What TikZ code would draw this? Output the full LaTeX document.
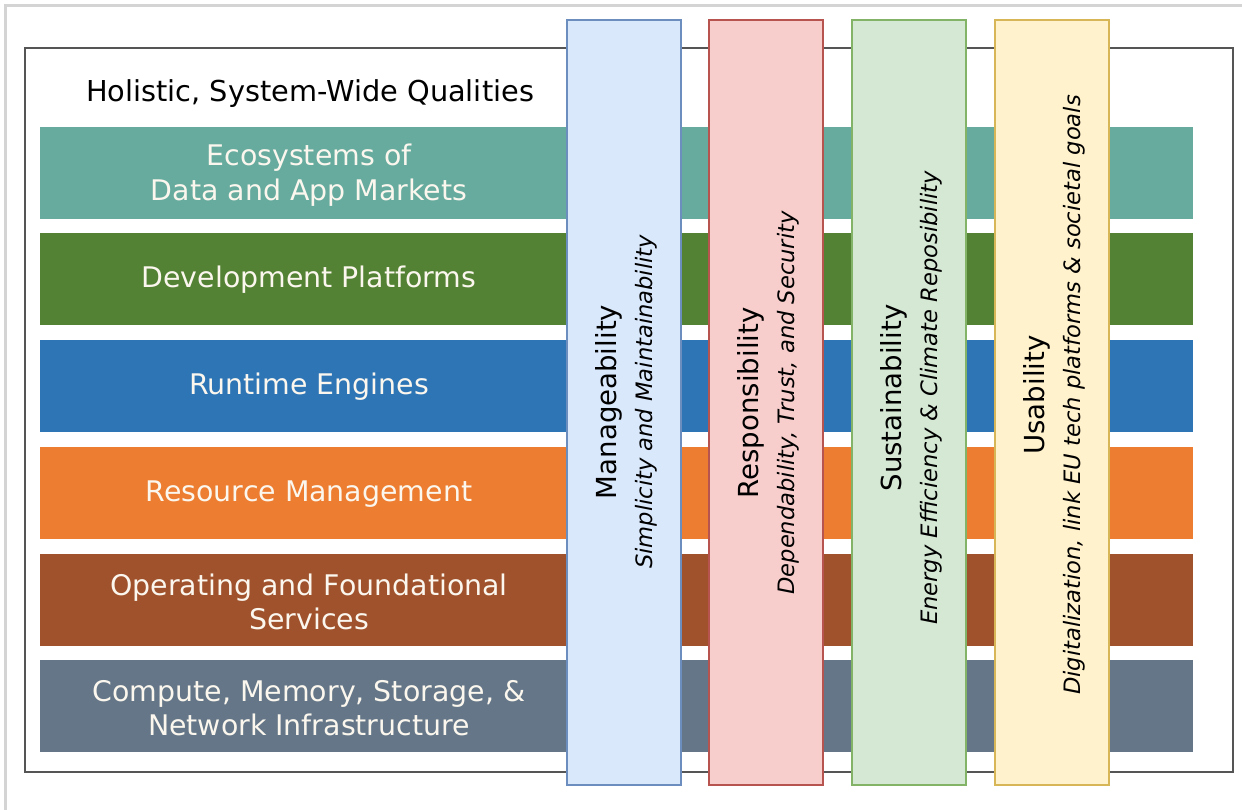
\documentclass[tikz,border=0pt]{standalone}
\usepackage{fontspec}
\setmainfont{DejaVu Sans}
\definecolor{tealband}{HTML}{67AB9F}
\definecolor{greenband}{HTML}{548235}
\definecolor{blueband}{HTML}{2E75B6}
\definecolor{orangeband}{HTML}{ED7D31}
\definecolor{brownband}{HTML}{A0522D}
\definecolor{slateband}{HTML}{647687}
\definecolor{bandtxt}{HTML}{FBF7EE}
\definecolor{colAfill}{HTML}{DAE8FC}\definecolor{colAdraw}{HTML}{6C8EBF}
\definecolor{colBfill}{HTML}{F8CECC}\definecolor{colBdraw}{HTML}{B85450}
\definecolor{colCfill}{HTML}{D5E8D4}\definecolor{colCdraw}{HTML}{82B366}
\definecolor{colDfill}{HTML}{FFF2CC}\definecolor{colDdraw}{HTML}{D6B656}
\definecolor{framegray}{HTML}{555555}
\definecolor{shadowgray}{HTML}{D4D4D4}
\begin{document}
\begin{tikzpicture}[x=1pt,y=-1pt,
  band/.style={rectangle,draw=none,minimum width=1153pt,minimum height=92pt,inner sep=0pt},
  bandtext/.style={text=bandtxt,align=center,font=\fontsize{28.4}{34.5}\selectfont,inner sep=0pt},
  column/.style={rectangle,line width=1.2pt,minimum width=114pt,minimum height=765pt,inner sep=0pt},
  coltext/.style={rotate=90,align=center,text=black,font=\fontsize{22.6}{36}\selectfont,inner sep=0pt},
  coltitle/.style={font=\fontsize{27.6}{36}\selectfont},
  frameline/.style={draw=framegray,line width=1.5pt}]
\useasboundingbox (0,0) rectangle (1242,810);
\fill[white] (0,0) rectangle (1242,810);
% page shadow
\coordinate (shA) at (5,810);
\coordinate (shB) at (5,6);
\coordinate (shC) at (1242,6);
\draw[shadowgray,line width=3pt] (shA) -- (shB) -- (shC);
% frame
\node[frameline,rectangle,minimum width=1208pt,minimum height=724pt,inner sep=0pt] (frame) at (629,410) {};
% title
\node[anchor=base,font=\fontsize{28.8}{34}\selectfont,inner sep=0pt] (title) at (310,102) {Holistic, System-Wide Qualities};
% bands
\node[band,fill=tealband] (b1) at (616.5,173) {};
\node[band,fill=greenband] (b2) at (616.5,279) {};
\node[band,fill=blueband] (b3) at (616.5,386) {};
\node[band,fill=orangeband] (b4) at (616.5,493) {};
\node[band,fill=brownband] (b5) at (616.5,600) {};
\node[band,fill=slateband] (b6) at (616.5,706) {};
\node[bandtext] (t1) at (309,175) {Ecosystems of\\Data and App Markets};
\node[bandtext] (t2) at (309,280) {Development Platforms};
\node[bandtext] (t3) at (309,387) {Runtime Engines};
\node[bandtext] (t4) at (309,494) {Resource Management};
\node[bandtext] (t5) at (309,602) {Operating and Foundational\\Services};
\node[bandtext] (t6) at (309,708) {Compute, Memory, Storage, \&\\Network Infrastructure};
% columns
\node[column,fill=colAfill,draw=colAdraw] (c1) at (624,402.5) {};
\node[column,fill=colBfill,draw=colBdraw] (c2) at (766,402.5) {};
\node[column,fill=colCfill,draw=colCdraw] (c3) at (909,402.5) {};
\node[column,fill=colDfill,draw=colDdraw] (c4) at (1052,402.5) {};
\node[coltext] (ct1) at (626,402) {{\fontsize{27.6}{36}\selectfont Manageability}\\\itshape Simplicity and Maintainability};
\node[coltext] (ct2) at (768,403) {{\fontsize{27.6}{36}\selectfont Responsibility}\\\itshape Dependability, Trust, and Security};
\node[coltext] (ct3) at (911,398) {{\fontsize{27.6}{36}\selectfont Sustainability}\\\itshape Energy Efficiency \& Climate Reposibility};
\node[coltext] (ct4) at (1054,395) {{\fontsize{27.6}{36}\selectfont Usability}\\\itshape Digitalization, link EU tech platforms \& societal goals};
\end{tikzpicture}
\end{document}
